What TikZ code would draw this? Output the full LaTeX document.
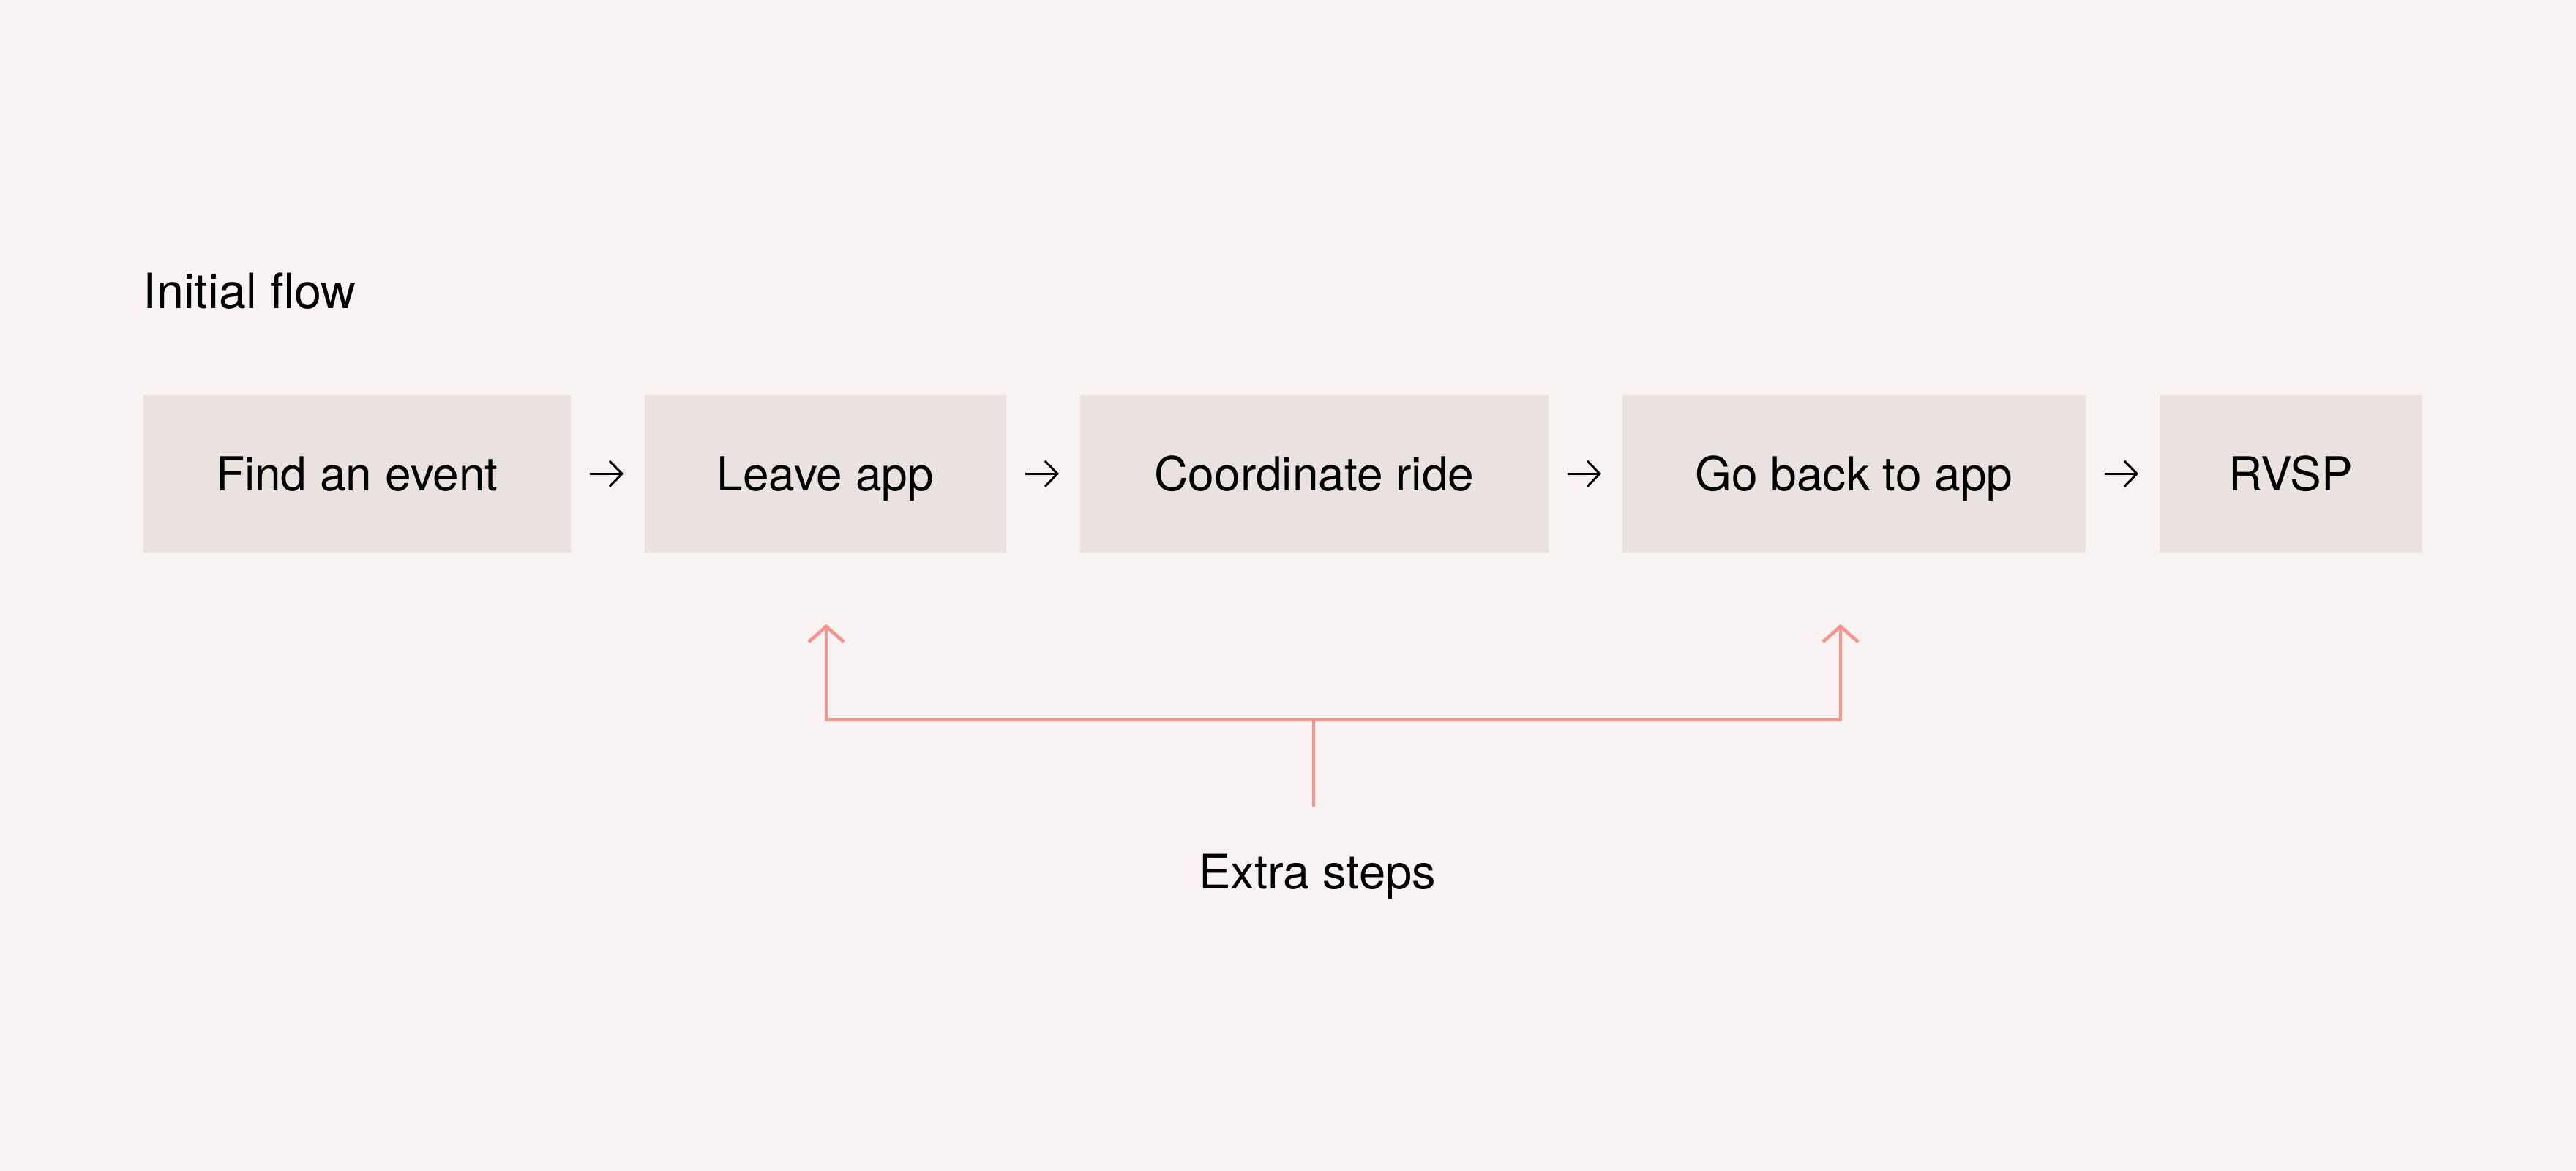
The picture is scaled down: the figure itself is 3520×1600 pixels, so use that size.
\documentclass[tikz,border=0pt]{standalone}
\usepackage{fontspec}
\setmainfont{TeX Gyre Heros}
\usetikzlibrary{arrows.meta}
\definecolor{bgcol}{RGB}{248,243,240}
\definecolor{boxcol}{RGB}{234,226,223}
\definecolor{redcol}{RGB}{245,148,142}
\begin{document}
\begin{tikzpicture}[x=0.01cm,y=-0.01cm,
  txt/.style={font=\fontsize{18.5}{22}\selectfont, text=black, inner sep=0pt},
  stepbox/.style={txt, font=\fontsize{18.2}{22}\selectfont, fill=boxcol, minimum height=2.15cm, text height=13.1pt, text depth=0pt, anchor=north west},
  flow/.style={draw=black, line width=0.85pt, -{Straight Barb[length=1.7mm,width=3.5mm]}, shorten <=0.25cm, shorten >=0.28cm},
  redline/.style={draw=redcol, line width=1.3pt}
]
\useasboundingbox[fill=bgcol] (0,0) rectangle (3520,1600);
\node[txt, anchor=base west, font=\fontsize{18.9}{22}\selectfont] (title) at (195,422) {Initial flow};
\node[stepbox, minimum width=5.84cm] (b1) at (195,539) {Find an event};
\node[stepbox, minimum width=4.94cm] (b2) at (880,539) {Leave app};
\node[stepbox, minimum width=6.40cm] (b3) at (1475,539) {Coordinate ride};
\node[stepbox, minimum width=6.33cm] (b4) at (2216,539) {Go back to app};
\node[stepbox, minimum width=3.59cm] (b5) at (2950,539) {RVSP};
\draw[flow] (b1.east) -- (b2.west);
\draw[flow] (b2.east) -- (b3.west);
\draw[flow] (b3.east) -- (b4.west);
\draw[flow] (b4.east) -- (b5.west);
\coordinate (tipL) at (1129,853);
\coordinate (cL) at (1129,983);
\coordinate (cR) at (2515,983);
\coordinate (tipR) at (2515,853);
\coordinate (jn) at (1795,983);
\coordinate (stem) at (1795,1102);
\draw[redline, {Straight Barb[length=2.1mm,width=4.8mm]}-{Straight Barb[length=2.1mm,width=4.8mm]}] (tipL) -- (cL) -- (cR) -- (tipR);
\draw[redline] (jn) -- (stem);
\node[txt, anchor=base] (extra) at (1800,1214) {Extra steps};
\end{tikzpicture}
\end{document}
